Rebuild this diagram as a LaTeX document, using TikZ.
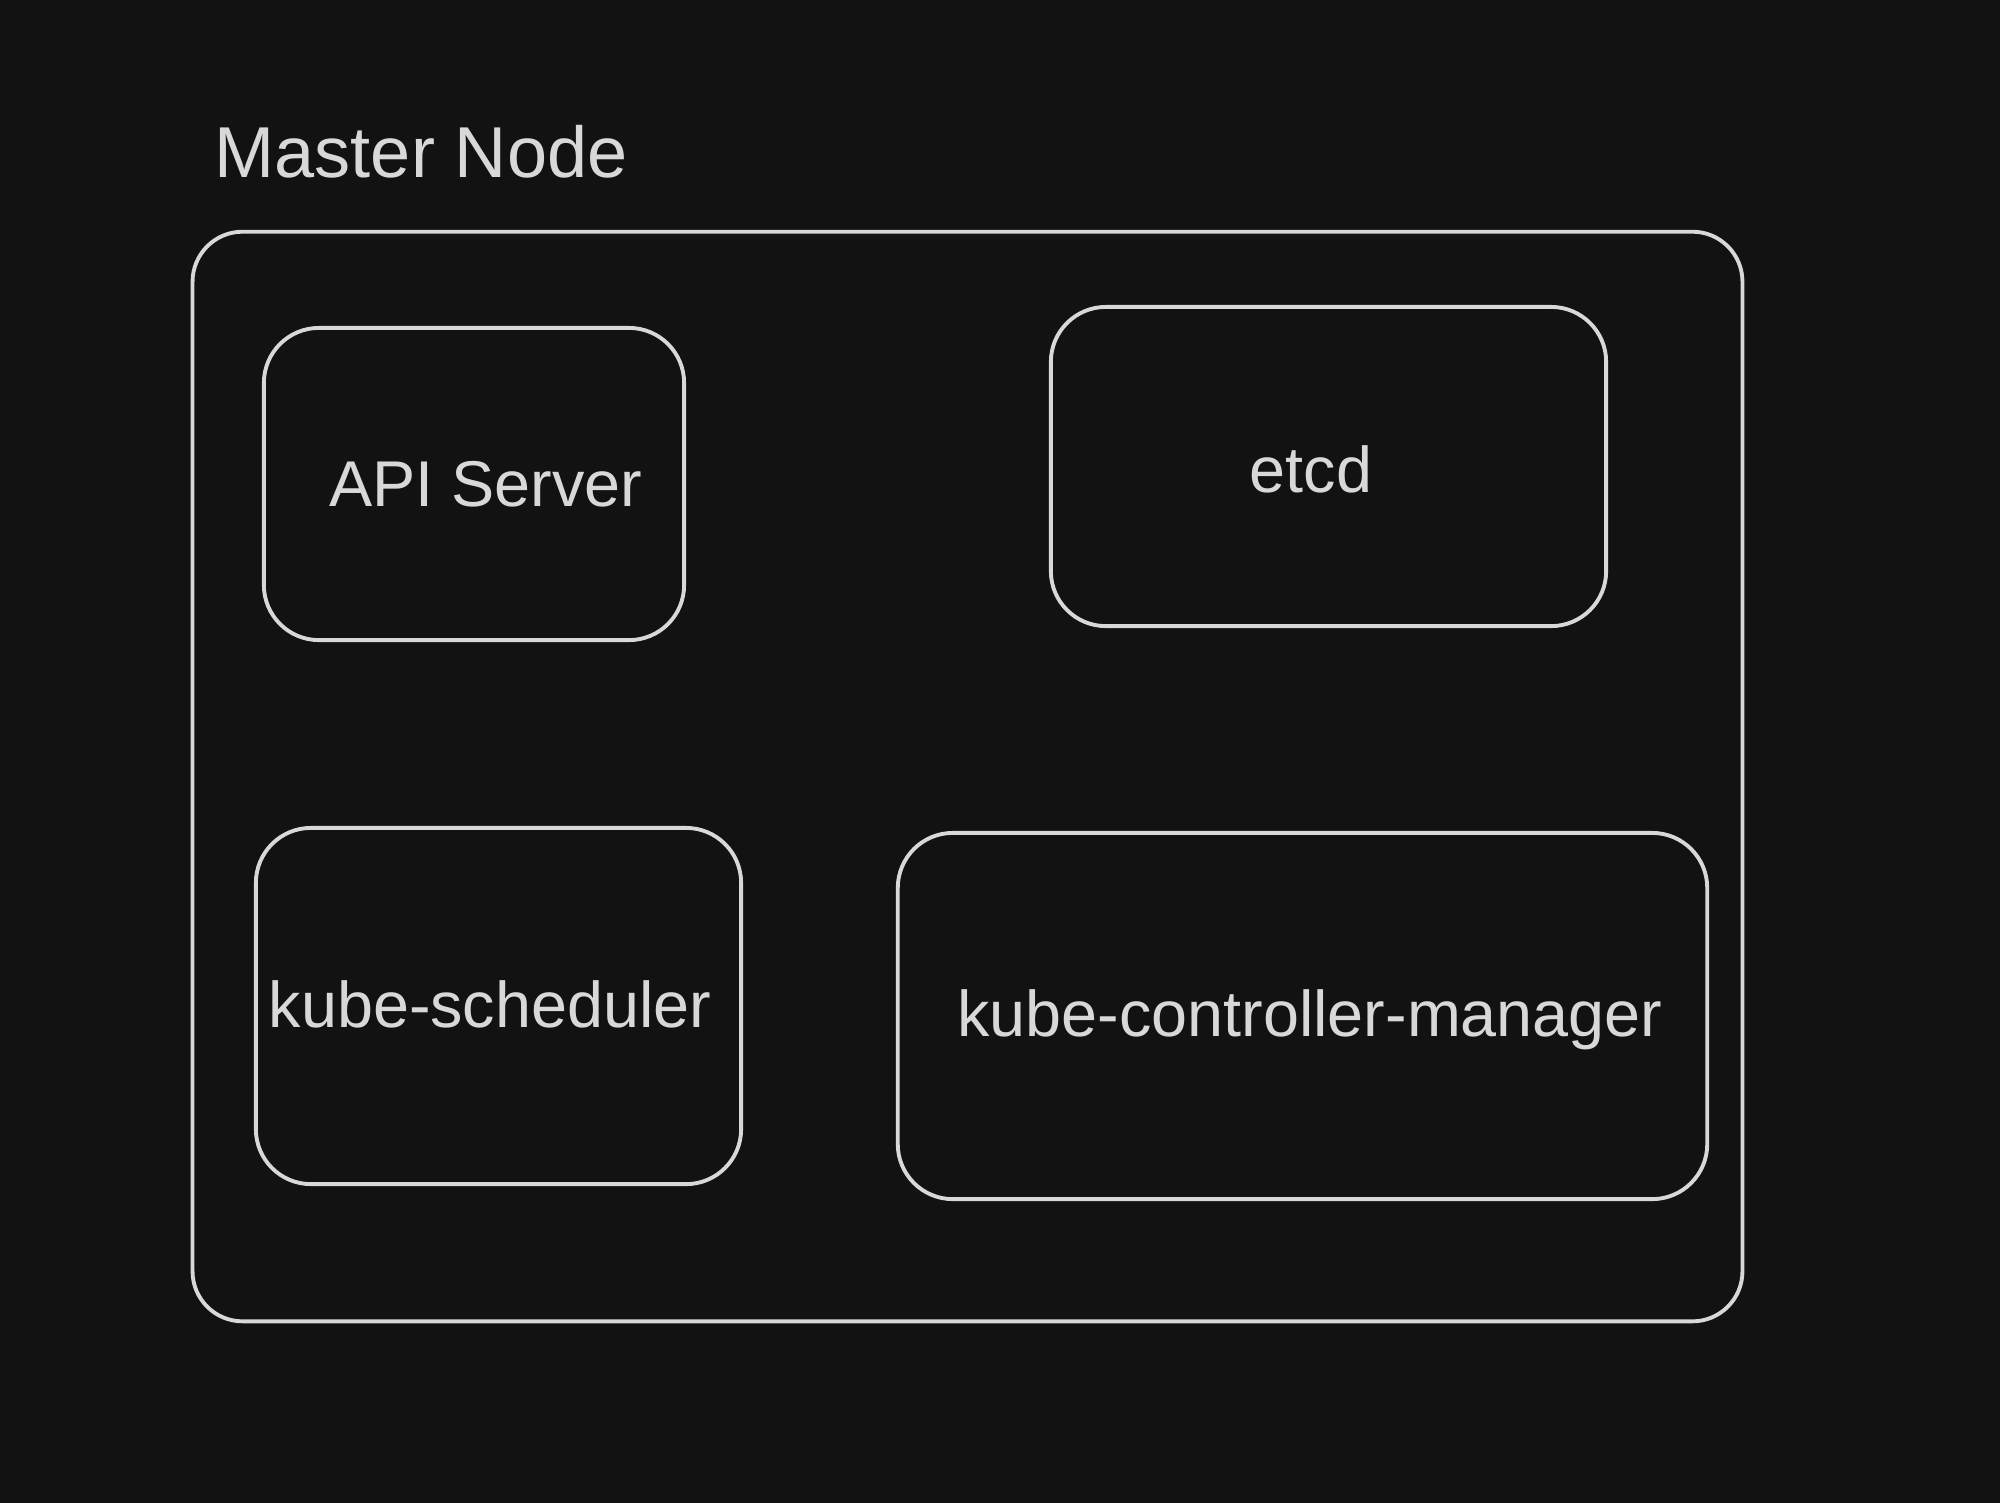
\documentclass[tikz,border=0pt]{standalone}
\usepackage{fontspec}
\setmainfont{Liberation Sans}
\definecolor{bgc}{HTML}{121212}
\definecolor{linec}{HTML}{D8D8D8}
\begin{document}
\begin{tikzpicture}[x=0.01cm,y=-0.01cm,
  box/.style={draw=linec, line width=1.1pt, rounded corners=0.55cm, inner sep=0pt},
  lbl/.style={text=linec, font=\fontsize{18.4}{22}\selectfont, inner sep=0pt, anchor=base}]
\useasboundingbox (0,0) rectangle (2000,1502);
\fill[bgc] (-20,-20) rectangle (2020,1522);
\node[text=linec, font=\fontsize{20.5}{24}\selectfont, inner sep=0pt, anchor=base west] (title) at (214,177) {Master Node};
\node[box, rounded corners=0.5cm, minimum width=15.49cm, minimum height=10.89cm] (master) at (967.5,776.5) {};
\node[box, minimum width=4.20cm, minimum height=3.12cm] (apibox) at (474,484) {};
\node[box, minimum width=5.55cm, minimum height=3.19cm] (etcdbox) at (1328.5,466.5) {};
\node[box, minimum width=4.85cm, minimum height=3.56cm] (schedbox) at (498.5,1006) {};
\node[box, minimum width=8.09cm, minimum height=3.66cm] (kcmbox) at (1302.5,1016) {};
\node[lbl] (api) at (486,506) {API Server};
\node[lbl] (etcd) at (1311,492) {etcd};
\node[lbl] (sched) at (490,1027) {kube-scheduler};
\node[lbl] (kcm) at (1310,1036) {kube-controller-manager};
\end{tikzpicture}
\end{document}
